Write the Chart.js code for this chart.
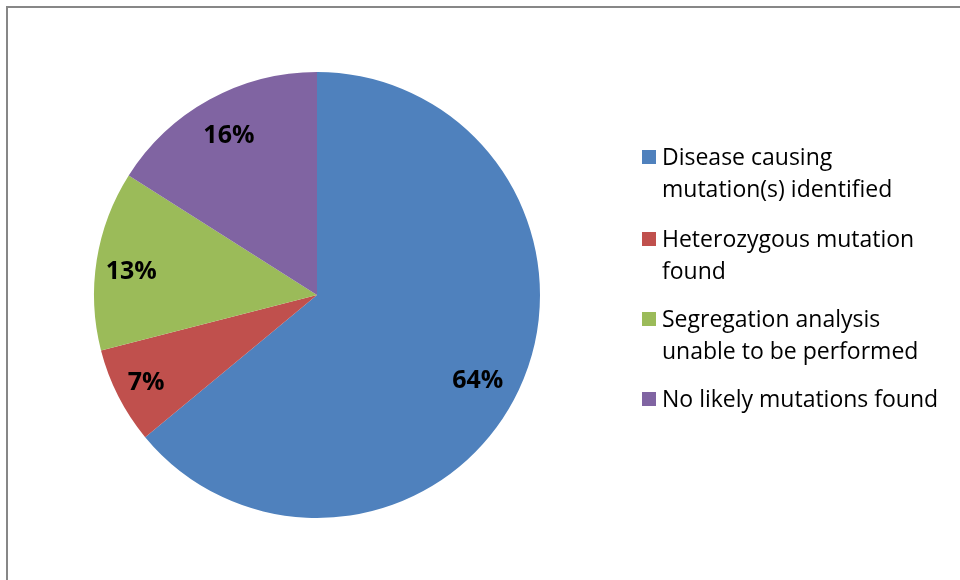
<!DOCTYPE html>
<html>
<head>
<meta charset="utf-8">
<script src="https://cdn.jsdelivr.net/npm/chart.js@4"></script>
<style>
  body { margin: 0; background: #fff; }
  #wrap { width: 960px; height: 580px; }
</style>
</head>
<body>
<div id="wrap"><canvas id="myChart" width="960" height="580"></canvas></div>
<script>
var categories = [
  ['Disease causing', 'mutation(s) identified'],
  ['Heterozygous mutation', 'found'],
  ['Segregation analysis', 'unable to be performed'],
  ['No likely mutations found']
];
var percentages = [64, 7, 13, 16];
var sliceColors = ['#4F81BD', '#C0504D', '#9BBB59', '#8064A2'];

// frame round the chart area (right and bottom edges fall outside the picture)
var framePlugin = {
  id: 'frame',
  beforeDraw: function (chart) {
    var c = chart.ctx;
    c.save();
    c.fillStyle = '#fff';
    c.fillRect(0, 0, chart.width, chart.height);
    c.strokeStyle = '#878787';
    c.lineWidth = 2;
    c.strokeRect(7, 7, 980, 600);
    c.restore();
  }
};

// bold percentage labels inside each slice
var labelPlugin = {
  id: 'sliceLabels',
  afterDatasetsDraw: function (chart) {
    var c = chart.ctx;
    var meta = chart.getDatasetMeta(0);
    var ratios = [0.815, 0.86, 0.84, 0.82];
    var nudge = [2.6, 0, -1.5, 0]; // degrees, clockwise
    c.save();
    c.font = 'bold 25px "Open Sans"';
    c.fillStyle = '#000';
    c.textAlign = 'center';
    c.textBaseline = 'middle';
    meta.data.forEach(function (arc, i) {
      var mid = (arc.startAngle + arc.endAngle) / 2 + nudge[i] * Math.PI / 180;
      var r = arc.outerRadius * ratios[i];
      var x = arc.x + Math.cos(mid) * r;
      var y = arc.y + Math.sin(mid) * r;
      c.fillText(percentages[i] + '%', x, y + 1);
    });
    c.restore();
  }
};

// legend on the right with wrapped labels
var legendPlugin = {
  id: 'sideLegend',
  afterDraw: function (chart) {
    var c = chart.ctx;
    var baselines = [165, 247, 327, 407];
    c.save();
    c.font = '23px "Open Sans"';
    c.textAlign = 'left';
    c.textBaseline = 'alphabetic';
    categories.forEach(function (lines, i) {
      var y = baselines[i];
      c.fillStyle = sliceColors[i];
      c.fillRect(642, y - 15, 14, 14);
      c.fillStyle = '#000';
      lines.forEach(function (line, j) {
        c.fillText(line, 662, y + j * 32);
      });
    });
    c.restore();
  }
};

var ctx = document.getElementById('myChart').getContext('2d');
var myChart = new Chart(ctx, {
  type: 'pie',
  data: {
    labels: categories,
    datasets: [{
      data: percentages,
      backgroundColor: sliceColors,
      borderWidth: 0
    }]
  },
  options: {
    responsive: false,
    animation: false,
    layout: {
      padding: { left: 94, right: 420, top: 72, bottom: 62 }
    },
    plugins: {
      legend: { display: false },
      tooltip: { enabled: false }
    }
  },
  plugins: [framePlugin, labelPlugin, legendPlugin]
});
</script>
</body>
</html>
